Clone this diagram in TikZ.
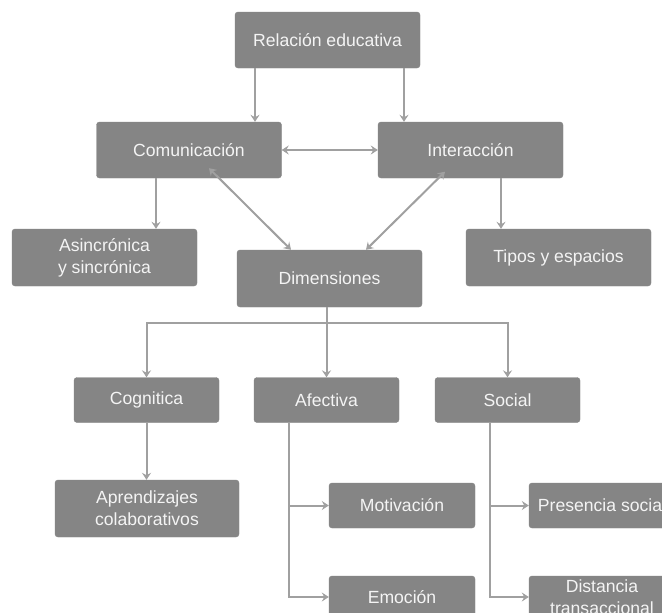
\documentclass[tikz,border=0pt]{standalone}
\usepackage{fontspec}
\setmainfont{Liberation Sans}
\usetikzlibrary{arrows.meta,calc}
\definecolor{boxgray}{HTML}{858585}
\definecolor{linegray}{HTML}{A0A0A0}
\definecolor{boxtext}{HTML}{F4F4F4}
\begin{document}
\begin{tikzpicture}[x=1pt,y=-1pt,
  box/.style={draw=boxgray,fill=boxgray,rounded corners=3pt,text=boxtext,
    inner sep=0pt,align=center,font=\fontsize{17.6}{21.7}\selectfont},
  wide/.style={box,minimum width=185pt,minimum height=56pt},
  small/.style={box,minimum width=145pt,minimum height=45pt},
  arr/.style={draw=linegray,line width=2pt,-{Stealth[length=7pt,width=9pt,inset=2.5pt]}},
  darr/.style={draw=linegray,line width=2pt,{Stealth[length=7pt,width=9pt,inset=2.5pt]}-{Stealth[length=7pt,width=9pt,inset=2.5pt]}},
  link/.style={draw=linegray,line width=2pt}]
\clip (0,0) rectangle (662,613);
\fill[white] (0,0) rectangle (662,613);

% upper level
\node[wide] (rel) at (327.5,40) {Relación educativa};
\node[wide] (com) at (189,150) {Comunicación};
\node[wide] (int) at (470.5,150) {Interacción};
\node[wide,minimum height=57pt] (asin) at (104.5,257.5) {Asincrónica\\y sincrónica};
\node[wide,minimum height=57pt] (dim) at (329.5,278.5) {Dimensiones};
\node[wide,minimum height=57pt] (tipos) at (558.5,257.5) {Tipos y espacios};

% dimensions
\node[small] (cog) at (146.5,400) {Cognitica};
\node[small] (afe) at (326.5,400) {Afectiva};
\node[small] (soc) at (507.5,400) {Social};

% lower level
\node[wide,minimum width=184pt,minimum height=57pt] (apr) at (147,508.5) {Aprendizajes\\colaborativos};
\node[small,minimum width=146pt] (mot) at (402,505.5) {Motivación};
\node[small,minimum width=146pt,minimum height=42pt] (emo) at (402,597) {Emoción};
\node[small,minimum width=146pt] (pres) at (602,505.5) {Presencia social};
\node[small,minimum width=146pt,minimum height=42pt] (dist) at (602,597) {Distancia\\transaccional};

% connectors of the upper level
\draw[arr] (255,0 |- rel.south) -- (255,0 |- com.north);
\draw[arr] (404,0 |- rel.south) -- (404,0 |- int.north);
\draw[darr] (com.east) -- (int.west);
\draw[arr] (156,0 |- com.south) -- (156,0 |- asin.north);
\draw[arr] (501,0 |- int.south) -- (501,0 |- tipos.north);
\draw[darr] ($(com.south)+(20,-10)$) -- ($(dim.north)+(-38.5,0)$);
\draw[darr] ($(int.south)+(-25.5,-6.5)$) -- ($(dim.north)+(36.5,0)$);

% tree below Dimensiones
\coordinate (split) at (326.5,323);
\draw[arr] (afe.north |- dim.south) -- (afe.north);
\draw[arr] (split) -| (cog.north);
\draw[arr] (split) -| (soc.north);
\draw[arr] (cog.south) -- (cog.south |- apr.north);

% branches of Afectiva and Social
\coordinate (afeTop) at (289,0 |- afe.south);
\coordinate (socTop) at (490,0 |- soc.south);
\draw[arr] (afeTop) |- (mot.west);
\draw[arr] (afeTop) |- (emo.west);
\draw[arr] (socTop) |- (pres.west);
\draw[arr] (socTop) |- (dist.west);
\end{tikzpicture}
\end{document}
